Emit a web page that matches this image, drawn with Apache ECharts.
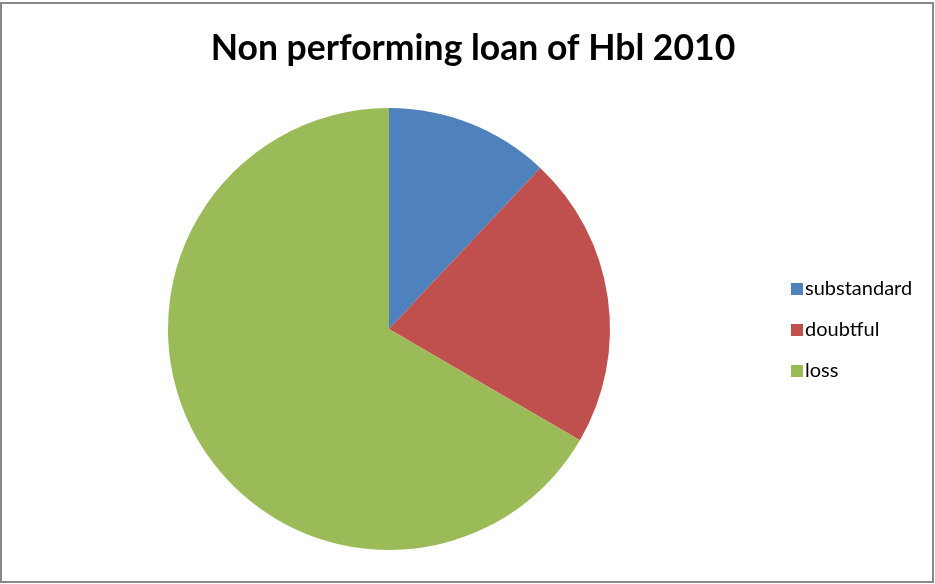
<!DOCTYPE html>
<html><head><meta charset="utf-8">
<script src="https://cdn.jsdelivr.net/npm/echarts@6/dist/echarts.min.js"></script>
<style>html,body{margin:0;padding:0;background:#fff}#c{width:935px;height:584px}</style>
</head><body><div id="c"></div>
<script>
const categories = ['substandard', 'doubtful', 'loss'];
const values = [12.0, 21.4, 66.6];
const colors = ['#4F81BD', '#C0504D', '#9BBB59'];
const titleText = 'Non performing loan of Hbl 2010';

const chart = echarts.init(document.getElementById('c'), null, {renderer: 'canvas'});
chart.setOption({
  animation: false,
  backgroundColor: '#fff',
  title: {
    text: titleText, left: 468, top: 26, textAlign: 'center',
    textStyle: {fontFamily: 'Lato', fontWeight: 'bold', fontSize: 35.5, color: '#000'}
  },
  legend: {
    orient: 'vertical', left: 786, top: 274, itemGap: 21,
    itemWidth: 12, itemHeight: 12, icon: 'rect',
    textStyle: {fontFamily: 'Lato', fontSize: 20, color: '#000', padding: [0,0,0,-3]},
    data: categories
  },
  graphic: [{
    type: 'rect', shape: {x: 1, y: 3, width: 932, height: 579},
    style: {fill: 'none', stroke: '#888', lineWidth: 2}, silent: true
  }],
  series: [{
    type: 'pie', center: [389, 329], radius: 221, startAngle: 90, clockwise: true,
    label: {show: false}, labelLine: {show: false},
    itemStyle: {borderWidth: 0},
    data: categories.map((c, i) => ({name: c, value: values[i], itemStyle: {color: colors[i]}}))
  }]
});
</script></body></html>
